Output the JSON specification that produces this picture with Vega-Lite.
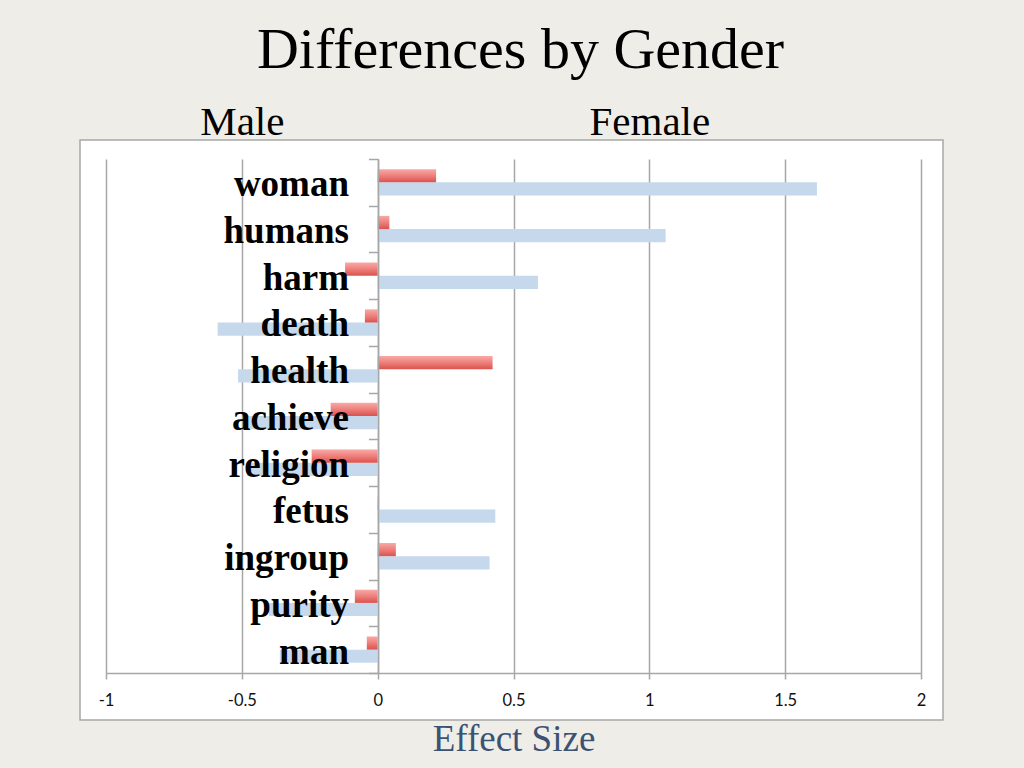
{
  "$schema": "https://vega.github.io/schema/vega-lite/v6.json",
  "width": 863,
  "height": 580,
  "autosize": {"type": "none"},
  "padding": {"left": 80, "top": 140, "right": 81, "bottom": 48},
  "background": "#efede8",
  "config": {"view": {"fill": "white", "stroke": "#a8a8a8", "strokeWidth": 1.5}},
  "title": {
    "text": "Differences by Gender",
    "font": "Liberation Serif",
    "fontSize": 58,
    "fontWeight": "normal",
    "color": "#000000",
    "frame": "group",
    "anchor": "middle",
    "baseline": "alphabetic",
    "offset": -25,
    "dx": 9
  },
  "data": {
    "values": [
      {"term": "woman", "group": "S1", "d": 0.215},
      {"term": "woman", "group": "S2", "d": 1.617},
      {"term": "humans", "group": "S1", "d": 0.043},
      {"term": "humans", "group": "S2", "d": 1.06},
      {"term": "harm", "group": "S1", "d": -0.12},
      {"term": "harm", "group": "S2", "d": 0.59},
      {"term": "death", "group": "S1", "d": -0.047},
      {"term": "death", "group": "S2", "d": -0.589},
      {"term": "health", "group": "S1", "d": 0.423},
      {"term": "health", "group": "S2", "d": -0.514},
      {"term": "achieve", "group": "S1", "d": -0.173},
      {"term": "achieve", "group": "S2", "d": -0.49},
      {"term": "religion", "group": "S1", "d": -0.243},
      {"term": "religion", "group": "S2", "d": -0.48},
      {"term": "fetus", "group": "S1", "d": 0.003},
      {"term": "fetus", "group": "S2", "d": 0.433},
      {"term": "ingroup", "group": "S1", "d": 0.067},
      {"term": "ingroup", "group": "S2", "d": 0.412},
      {"term": "purity", "group": "S1", "d": -0.084},
      {"term": "purity", "group": "S2", "d": -0.4},
      {"term": "man", "group": "S1", "d": -0.04},
      {"term": "man", "group": "S2", "d": -0.36}
    ]
  },
  "encoding": {
    "y": {
      "field": "term",
      "type": "nominal",
      "sort": ["woman", "humans", "harm", "death", "health", "achieve", "religion", "fetus", "ingroup", "purity", "man"],
      "scale": {"range": [19, 533], "paddingInner": 0, "paddingOuter": 0},
      "axis": {
        "orient": "left",
        "offset": -298,
        "tickBand": "extent",
        "grid": false,
        "domainColor": "#a6a6a6",
        "domainWidth": 1.5,
        "tickColor": "#a6a6a6",
        "tickWidth": 1.5,
        "tickSize": 9.5,
        "labelFont": "Liberation Serif",
        "labelFontWeight": "bold",
        "labelFontSize": 37,
        "labelColor": "#000000",
        "labelPadding": 20,
        "labelAlign": "right",
        "labelBaseline": "alphabetic",
        "labelOffset": 13.4,
        "labelLimit": 0,
        "title": null,
        "zindex": 1
      }
    },
    "yOffset": {
      "field": "group",
      "type": "nominal",
      "scale": {"domain": ["S1", "S2"], "paddingInner": 0, "paddingOuter": 0.77}
    }
  },
  "layer": [
    {
      "transform": [{"filter": "datum.group === 'S2'"}],
      "mark": {"type": "bar", "color": "#c6d8ec", "orient": "horizontal"},
      "encoding": {
        "x": {
          "field": "d",
          "type": "quantitative",
          "scale": {"domain": [-1, 2], "range": [26, 841], "nice": false},
          "axis": {
            "orient": "bottom",
            "offset": -47,
            "values": [-1, -0.5, 0, 0.5, 1, 1.5, 2],
            "labelExpr": "datum.value + ''",
            "grid": false,
            "domainColor": "#a6a6a6",
            "domainWidth": 1.5,
            "tickColor": "#a6a6a6",
            "tickWidth": 1.5,
            "tickSize": 6,
            "labelFont": "Lato",
            "labelFontSize": 16.5,
            "labelColor": "#111111",
            "labelBaseline": "middle",
            "labelPadding": 21,
            "labelFlush": false,
            "title": "Effect Size",
            "titleFont": "Liberation Serif",
            "titleFontSize": 37,
            "titleFontWeight": "normal",
            "titleColor": "#3c5272",
            "titleBaseline": "alphabetic",
            "titleY": 77,
            "zindex": 0
          }
        }
      }
    },
    {
      "transform": [{"filter": "datum.group === 'S1'"}],
      "mark": {
        "type": "bar",
        "orient": "horizontal",
        "color": {
          "gradient": "linear",
          "x1": 0, "y1": 0, "x2": 0, "y2": 1,
          "stops": [
            {"offset": 0, "color": "#f7aaa6"},
            {"offset": 0.5, "color": "#ee7f7b"},
            {"offset": 1, "color": "#d9524e"}
          ]
        }
      },
      "encoding": {
        "x": {
          "field": "d",
          "type": "quantitative",
          "axis": {
            "orient": "top",
            "offset": -19,
            "values": [-1, -0.5, 0, 0.5, 1, 1.5, 2],
            "labelExpr": "datum.value == -0.5 ? 'Male' : (datum.value == 1 ? 'Female' : '')",
            "ticks": true,
            "tickSize": -514,
            "tickColor": "#a6a6a6",
            "tickWidth": 1.5,
            "domain": false,
            "grid": false,
            "labelFont": "Liberation Serif",
            "labelFontSize": 41,
            "labelColor": "#000000",
            "labelBaseline": "alphabetic",
            "labelPadding": 539,
            "labelFlush": false,
            "labelOverlap": false,
            "title": null,
            "zindex": 0
          }
        }
      }
    }
  ],
  "resolve": {"axis": {"x": "independent"}}
}
